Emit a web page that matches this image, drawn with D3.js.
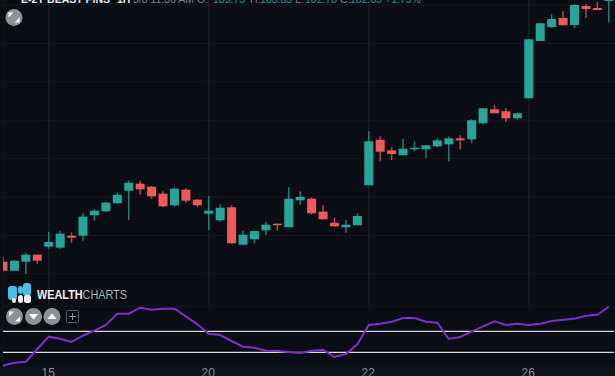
<!DOCTYPE html>
<html>
<head>
<meta charset="utf-8">
<script src="https://cdn.jsdelivr.net/npm/d3@7"></script>
<style>
  html, body { margin: 0; padding: 0; background: #0a0d13; overflow: hidden; }
  svg { display: block; font-family: "Liberation Sans", Arial, sans-serif; }
</style>
</head>
<body>
<div id="chart"></div>
<script>
var opens = [146.58,145.40,146.58,147.49,148.53,148.40,149.96,149.96,152.62,153.14,154.18,155.82,156.73,156.34,155.43,153.92,155.95,154.65,
  152.83,151.97,153.66,148.79,149.49,150.66,151.52,151.06,154.57,154.78,153.09,151.65,151.06,151.32,156.52,162.46,161.08,160.43,
  161.21,161.21,161.60,161.86,162.64,162.51,164.60,166.42,166.16,165.25,167.85,175.31,177.13,178.31,177.39,179.87,179.61,180.52];
var highs = [147.23,146.71,147.75,147.49,150.48,150.61,150.40,152.88,153.40,154.35,155.56,157.17,157.12,156.43,155.74,156.21,156.13,154.74,
  155.13,154.05,153.92,150.61,150.57,151.78,151.56,156.26,155.74,154.96,153.92,152.31,152.01,152.88,163.55,162.90,161.47,162.59,
  162.25,161.73,162.64,162.85,163.03,165.12,166.59,166.98,166.55,165.90,175.53,177.62,178.79,179.18,180.13,180.13,180.39,182.30];
var lows = [145.40,145.40,144.98,146.28,148.27,148.23,149.05,149.31,151.92,153.05,154.18,152.01,155.30,154.74,153.70,153.74,154.26,153.74,
  150.70,151.78,148.97,148.79,148.97,150.05,150.61,151.06,154.00,152.70,152.10,151.15,150.35,151.32,156.52,159.65,159.82,160.43,
  160.95,160.04,161.47,159.65,161.21,161.99,164.47,165.90,164.77,165.07,167.85,175.31,177.00,177.36,177.00,178.35,179.35,177.69];
var closes = [145.40,146.71,147.49,146.71,149.14,150.22,149.70,152.44,153.22,154.26,155.30,156.86,156.00,155.09,153.79,156.08,154.52,153.92,
  153.22,153.61,148.97,150.09,150.57,151.39,151.32,154.78,155.00,152.88,152.10,151.19,151.39,152.53,162.25,160.90,160.60,161.29,
  161.42,161.73,162.38,162.64,162.38,164.99,166.55,165.90,165.25,165.90,175.53,177.62,178.18,177.36,180.00,179.48,179.35,181.95];
var oscillator = [-227.5,-199,-189.4,-68.5,48.6,29.5,-1.9,58,105.7,160,267.5,267.5,324.6,305.6,315.1,315.1,242.8,166.6,
  77.1,64.7,7.6,-46.6,-56.2,-84.7,-87.6,-97.1,-106.6,-84.7,-75.2,-144.7,-116.1,-23.8,159.9,172.3,191.4,226.6,
  226.6,191.4,181.8,26.7,45.7,96.2,147.6,195.2,159.9,172.3,159.9,172.3,198,210.4,219.9,248.5,258,334.2];
var oscLevels = [100, -100];
var priceTicks = [180, 175, 170, 165, 160, 155, 150, 145];
var dayTicks = [4, 18, 32, 46];
var dayLabels = ["15", "20", "22", "26"];

var w = 615;
var h = 376;
var left = 3;
var axisTop = 366;
var up = "#26a69a";
var down = "#f4575a";

var svg = d3.select("#chart").append("svg").attr("width", w).attr("height", h);
svg.append("rect").attr("width", w).attr("height", h).attr("fill", "#0a0d13");
svg.append("rect").attr("y", axisTop).attr("width", w).attr("height", h - axisTop).attr("fill", "#0b1219");

var xScale = d3.scaleLinear().domain([0, 53]).range([3, 608.8]);
var yScale = d3.scaleLinear().domain([180, 150]).range([5, 235.4]);
var oscScale = d3.scaleLinear().domain([-100, 100]).range([352.3, 331.3]);

svg.append("defs").append("clipPath").attr("id", "pane")
  .append("rect").attr("x", left).attr("y", 0).attr("width", w - left).attr("height", 306);

// grid
var grid = svg.append("g");
grid.selectAll(".h").data(priceTicks).enter().append("line")
  .attr("x1", left).attr("x2", w)
  .attr("y1", function(d) { return yScale(d); })
  .attr("y2", function(d) { return yScale(d); })
  .attr("stroke", "#141821").attr("stroke-width", 1);
grid.selectAll(".v").data(dayTicks).enter().append("line")
  .attr("x1", function(d) { return xScale(d); })
  .attr("x2", function(d) { return xScale(d); })
  .attr("y1", 0).attr("y2", 306)
  .attr("stroke", "#171c26").attr("stroke-width", 1.5);
grid.append("line").attr("x1", left).attr("x2", left).attr("y1", 0).attr("y2", 366)
  .attr("stroke", "#12161e").attr("stroke-width", 1);
grid.append("line").attr("x1", left).attr("x2", w).attr("y1", 306).attr("y2", 306)
  .attr("stroke", "#12161e").attr("stroke-width", 1);

// candles
var candles = svg.append("g").attr("clip-path", "url(#pane)");
var color = function(i) { return closes[i] >= opens[i] ? up : down; };

candles.selectAll(".wick").data(opens).enter().append("line")
  .attr("x1", function(d, i) { return xScale(i); })
  .attr("x2", function(d, i) { return xScale(i); })
  .attr("y1", function(d, i) { return yScale(highs[i]); })
  .attr("y2", function(d, i) { return yScale(lows[i]); })
  .attr("stroke", function(d, i) { return color(i); })
  .attr("stroke-opacity", 0.75)
  .attr("stroke-width", 1.5);

candles.selectAll(".body").data(opens).enter().append("rect")
  .attr("x", function(d, i) { return xScale(i) - 4.5; })
  .attr("width", 9)
  .attr("y", function(d, i) { return yScale(Math.max(opens[i], closes[i])); })
  .attr("height", function(d, i) { return Math.abs(yScale(opens[i]) - yScale(closes[i])); })
  .attr("fill", function(d, i) { return color(i); });

// oscillator
svg.selectAll(".level").data(oscLevels).enter().append("line")
  .attr("x1", left).attr("x2", w - 1)
  .attr("y1", function(d) { return oscScale(d); })
  .attr("y2", function(d) { return oscScale(d); })
  .attr("stroke", "#d8d8d8").attr("stroke-width", 1.2);

var oscLine = d3.line()
  .x(function(d, i) { return xScale(i); })
  .y(function(d) { return oscScale(d); });
svg.append("path").datum(oscillator)
  .attr("d", oscLine)
  .attr("fill", "none")
  .attr("stroke", "#7b2fd0")
  .attr("stroke-width", 2);

// time axis
var xAxis = d3.axisBottom(xScale)
  .tickValues(dayTicks)
  .tickSize(0)
  .tickPadding(0)
  .tickFormat(function(d, i) { return dayLabels[i]; });
var axisG = svg.append("g").attr("transform", "translate(-1," + 368 + ")").call(xAxis);
axisG.select(".domain").remove();
axisG.selectAll("text")
  .attr("font-family", "'Liberation Sans', Arial, sans-serif")
  .attr("font-size", 12)
  .attr("fill", "#7c979c");

// header, cropped by the top edge
var header = svg.append("g").attr("font-size", 10.5);
var headerParts = [
  [21, "E-2Y BEAST PINS", "#e8e8e8", "bold"],
  [117, "1H", "#e8e8e8", "bold"],
  [133, "3/8 11:30 AM O:", "#7d8388", "normal"],
  [213, "183.75", "#1f9d8e", "normal"],
  [250, "H:", "#7d8388", "normal"],
  [260, "183.83", "#1f9d8e", "normal"],
  [295, "L:", "#7d8388", "normal"],
  [305, "182.78", "#1f9d8e", "normal"],
  [340, "C:", "#7d8388", "normal"],
  [350, "182.89", "#1f9d8e", "normal"],
  [385, "+1.79%", "#1f9d8e", "normal"]
];
header.selectAll("text").data(headerParts).enter().append("text")
  .attr("x", function(d) { return d[0]; })
  .attr("y", 3)
  .attr("fill", function(d) { return d[2]; })
  .attr("font-weight", function(d) { return d[3]; })
  .text(function(d) { return d[1]; });

// round buttons
function button(cx, cy, kind) {
  var g = svg.append("g").attr("transform", "translate(" + cx + "," + cy + ")");
  g.append("circle").attr("r", 8.5).attr("fill", "#8f9193");
  if (kind == "swap") {
    g.append("path").attr("d", "M-5.5,0 L-5.5,-5 L-0.5,-5 Z M5.5,0 L5.5,5 L0.5,5 Z").attr("fill", "#fff");
  } else if (kind == "down") {
    g.append("path").attr("d", "M-4.5,-2.5 L4.5,-2.5 L0,3 Z").attr("fill", "#fff");
  } else {
    g.append("path").attr("d", "M-4.5,2.5 L4.5,2.5 L0,-3 Z").attr("fill", "#fff");
  }
}
button(14, 17.5, "swap");
button(14.5, 316.5, "swap");
button(33.5, 316.5, "down");
button(52, 316.5, "up");

svg.append("rect").attr("x", 66.5).attr("y", 310.5).attr("width", 12).attr("height", 12).attr("rx", 1)
  .attr("fill", "none").attr("stroke", "#5a5e62").attr("stroke-width", 1);
svg.append("path").attr("d", "M69,316.5 H76 M72.5,313 V320").attr("stroke", "#8a8e92").attr("stroke-width", 1);

// logo
var logo = svg.append("g");
[[8, 286, 9, 14], [18, 286, 5, 8], [23, 283, 8, 13]].forEach(function(b) {
  logo.append("rect").attr("x", b[0]).attr("y", b[1]).attr("width", b[2]).attr("height", b[3]).attr("rx", 3)
    .attr("fill", "#4bbfe0");
});
[[12, 298, 4, 5], [18, 295, 5, 8], [24, 295, 7, 8]].forEach(function(b) {
  logo.append("rect").attr("x", b[0]).attr("y", b[1]).attr("width", b[2]).attr("height", b[3]).attr("rx", 2.5)
    .attr("fill", "#f2f2f2");
});
var logoText = svg.append("text").attr("x", 37).attr("y", 298.5).attr("font-size", 13)
  .attr("textLength", 90).attr("lengthAdjust", "spacingAndGlyphs");
logoText.append("tspan").attr("font-weight", "bold").attr("fill", "#f0f0f0").text("WEALTH");
logoText.append("tspan").attr("fill", "#a9adb0").text("CHARTS");
</script>
</body>
</html>
